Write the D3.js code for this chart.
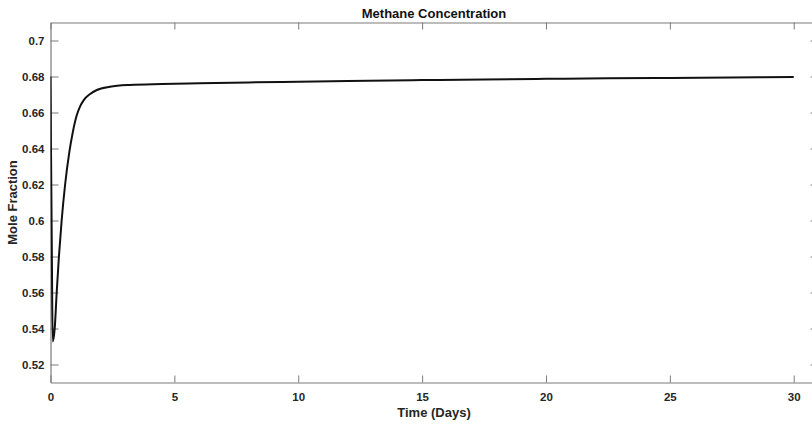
<!DOCTYPE html>
<html><head><meta charset="utf-8">
<script src="https://cdn.jsdelivr.net/npm/d3@7"></script>
<style>
body{margin:0;background:#fff;}
text{font-family:"Liberation Sans",Arial,sans-serif;}
</style></head>
<body><svg id="c" width="812" height="426"></svg>
<script>
const timeDays = [0, 0.02, 0.05, 0.09, 0.17, 0.25, 0.34, 0.45, 0.59, 0.76, 0.9, 1.05, 1.2, 1.35, 1.6, 1.87, 2.4, 3.2, 4.5, 6, 8, 10, 12, 15, 17.5, 20, 22.5, 25, 27.5, 30];
const moleFraction = [0.68, 0.64, 0.59, 0.5328, 0.54, 0.56, 0.58, 0.6, 0.62, 0.638, 0.649, 0.658, 0.6635, 0.667, 0.6703, 0.6725, 0.6743, 0.6753, 0.6758, 0.6762, 0.6767, 0.6771, 0.6775, 0.678, 0.6784, 0.6787, 0.679, 0.6792, 0.6795, 0.6797];
const xTicks = [0, 5, 10, 15, 20, 25, 30];
const yTicks = [0.52, 0.54, 0.56, 0.58, 0.6, 0.62, 0.64, 0.66, 0.68, 0.7];
const titleText = "Methane Concentration";
const xLabel = "Time (Days)";
const yLabel = "Mole Fraction";

const svg = d3.select("#c");
const L = 50.5, R = 818.5, T = 22.5, B = 382.5;
const x = d3.scaleLinear().domain([0, 31]).range([L, R]);
const y = d3.scaleLinear().domain([0.51, 0.71]).range([B, T]);
const axisColor = "#7a7a7a";
const labColor = "#262626";

function styleAxis(g, showLabels){
  g.select(".domain").attr("stroke", axisColor).attr("stroke-width", 1.2);
  g.selectAll(".tick line").attr("stroke", axisColor).attr("stroke-width", 1);
  g.selectAll(".tick text").attr("fill", labColor).attr("font-size", 11.5).attr("font-weight", "bold")
    .style("display", showLabels ? null : "none");
}
const gxB = svg.append("g").attr("transform", `translate(0,${B})`)
  .call(d3.axisBottom(x).tickValues(xTicks).tickSizeInner(-7).tickSizeOuter(0).tickPadding(10).tickFormat(d3.format("d")));
styleAxis(gxB, true);
const gxT = svg.append("g").attr("transform", `translate(0,${T})`)
  .call(d3.axisTop(x).tickValues(xTicks).tickSizeInner(-7).tickSizeOuter(0));
styleAxis(gxT, false);
const gyL = svg.append("g").attr("transform", `translate(${L},0)`)
  .call(d3.axisLeft(y).tickValues(yTicks).tickSizeInner(-8).tickSizeOuter(0).tickPadding(6).tickFormat(d => String(+d.toFixed(2))));
styleAxis(gyL, true);
const gyR = svg.append("g").attr("transform", `translate(${R},0)`)
  .call(d3.axisRight(y).tickValues(yTicks).tickSizeInner(-8).tickSizeOuter(0));
styleAxis(gyR, false);

svg.append("defs").append("clipPath").attr("id", "clip")
  .append("rect").attr("x", L).attr("y", T).attr("width", R - L).attr("height", B - T);

const data = timeDays.map((t, i) => [t, moleFraction[i]]);
svg.append("path").datum(data)
  .attr("clip-path", "url(#clip)")
  .attr("fill", "none").attr("stroke", "#111").attr("stroke-width", 2)
  .attr("stroke-linejoin", "round")
  .attr("d", d3.line().x(d => x(d[0])).y(d => y(d[1])).curve(d3.curveMonotoneX));

svg.append("text").attr("x", 434).attr("y", 18).attr("text-anchor", "middle")
  .attr("font-size", 13).attr("font-weight", "bold").attr("fill", "#111").text(titleText);
svg.append("text").attr("x", 434).attr("y", 417).attr("text-anchor", "middle")
  .attr("font-size", 13).attr("font-weight", "bold").attr("fill", labColor).text(xLabel);
svg.append("text").attr("transform", `translate(12,${(T + B) / 2}) rotate(-90)`).attr("text-anchor", "middle")
  .attr("dy", "0.35em")
  .attr("font-size", 13).attr("font-weight", "bold").attr("fill", labColor).text(yLabel);
</script></body></html>
